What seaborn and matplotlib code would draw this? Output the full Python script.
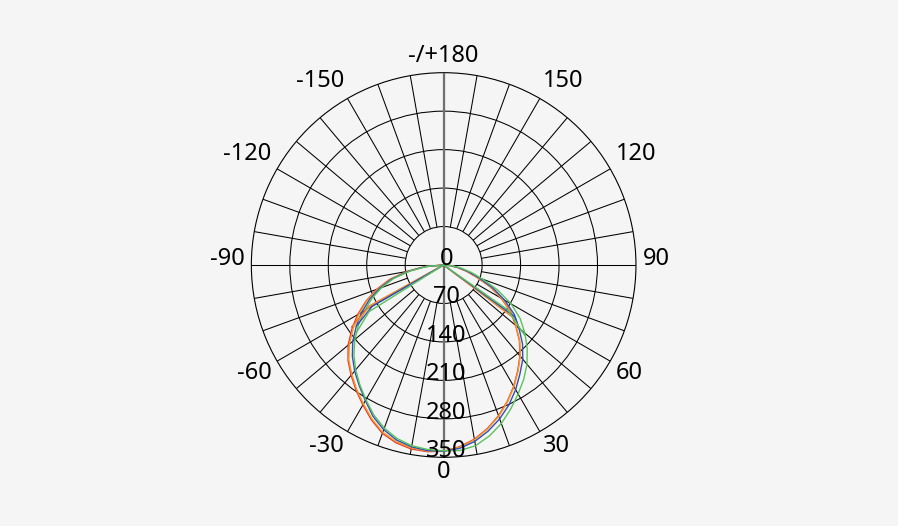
import numpy as np
import pandas as pd
import matplotlib
matplotlib.use('Agg')
import matplotlib.pyplot as plt
from matplotlib.transforms import offset_copy
import seaborn as sns

# gamma angles (deg), 0 = straight down, positive = to the right
gamma = list(range(-90, 95, 5))

# luminous intensity per C-plane
red = [0, 35, 68, 102, 130, 156, 181, 204, 227, 246, 262, 278, 294, 311, 326, 335, 340, 341, 339,
       332, 322, 308, 292, 274, 255, 235, 216, 195, 171, 149, 121, 93, 63, 42, 25, 12, 0]
orange = [0, 34, 66, 100, 128, 154, 178, 201, 224, 244, 260, 276, 292, 309, 324, 333, 338, 340, 339,
          333, 323, 309, 293, 275, 256, 236, 217, 196, 172, 150, 122, 94, 64, 43, 26, 12, 0]
blue = [0, 33, 64, 97, 124, 149, 172, 194, 216, 235, 252, 268, 285, 304, 319, 330, 336, 339, 339,
        335, 326, 313, 298, 281, 262, 242, 224, 203, 179, 157, 128, 99, 69, 46, 28, 13, 0]
green = [0, 31, 61, 94, 120, 144, 166, 189, 211, 231, 249, 266, 283, 301, 316, 327, 334, 337, 338,
         339, 334, 322, 307, 289, 271, 254, 236, 215, 193, 170, 142, 109, 76, 52, 32, 16, 0]

# inner shoulder branches (they run through the lamp centre)
red_inner_gamma = [-56, -61, 0, 53, 50]
red_inner = [202, 154, 0, 159, 171]
orange_inner_gamma = [-56, -61, 0, 53, 50]
orange_inner = [199, 152, 0, 160, 172]
blue_inner_gamma = [-55, -60, 0, 54, 50]
blue_inner = [194, 150, 0, 160, 179]
green_inner_gamma = [-52, -58, 0, 55, 49]
green_inner = [203, 160, 0, 142, 196]

planes = ['C0', 'C90', 'C180', 'C270']
colors = ['#e8352a', '#f59a23', '#2f4fbf', '#5bc25b']

rings = [70, 140, 210, 280, 350]
r_labels = [0, 70, 140, 210, 280, 350]
angle_ticks = [0, 30, 60, 90, 120, 150, 180, 210, 240, 270, 300, 330]
angle_labels = ['0', '30', '60', '90', '120', '150', '-/+180', '-150', '-120', '-90', '-60', '-30']

lobe = pd.DataFrame({
    'theta': np.deg2rad(gamma * 4),
    'cd': red + orange + blue + green,
    'plane': np.repeat(planes, len(gamma)),
})
inner = pd.DataFrame({
    'theta': np.deg2rad(red_inner_gamma + orange_inner_gamma + blue_inner_gamma + green_inner_gamma),
    'cd': red_inner + orange_inner + blue_inner + green_inner,
    'plane': np.repeat(planes, len(red_inner)),
})

sns.set_theme(style='white')
plt.rcParams['font.family'] = ['Noto Sans', 'DejaVu Sans']

fig = plt.figure(figsize=(8.98, 5.26), dpi=100, facecolor='#f5f5f5')
ax = fig.add_axes([0.2799, 0.1306, 0.4283, 0.7312], projection='polar')
ax.set_facecolor('none')
ax.set_theta_zero_location('S')
ax.set_theta_direction(1)
ax.set_ylim(0, 350)

# grid: rings + 10 degree spokes outside the first ring
ax.set_xticks([])
ax.set_yticks(rings[:-1])
ax.set_yticklabels([])
ax.xaxis.grid(False)
ax.yaxis.grid(True, color='black', linewidth=0.75)
ax.spines['polar'].set_color('black')
ax.spines['polar'].set_linewidth(0.8)
ax.vlines(np.deg2rad(np.arange(0, 360, 10)), rings[0], rings[-1], colors='black', linewidth=0.75)
ax.vlines(np.deg2rad([90, 270]), 0, rings[0], colors='black', linewidth=0.75)
ax.vlines(np.deg2rad([0, 180]), 0, rings[-1], colors='#707070', linewidth=1.6, zorder=3)

pal = dict(zip(planes, colors))
sns.lineplot(data=lobe, x='theta', y='cd', hue='plane', palette=pal, sort=False,
             estimator=None, legend=False, linewidth=1.0, ax=ax, zorder=4)
sns.lineplot(data=inner, x='theta', y='cd', hue='plane', palette=pal, sort=False,
             estimator=None, legend=False, linewidth=1.0, ax=ax, zorder=4)
ax.set_xlabel('')
ax.set_ylabel('')

# radial labels along the downward axis, baseline sitting on each ring
shifted = offset_copy(ax.transData, fig=fig, x=2.5, y=0, units='dots')
for v in r_labels:
    ax.text(0, v, str(v), ha='center', va='baseline', fontsize=17, color='black',
            transform=shifted, zorder=5)

# angle labels just outside the rim, aligned away from the circle
for t, lab in zip(angle_ticks, angle_labels):
    if t in (0, 180):
        ha = 'center'
    elif t < 180:
        ha = 'left'
    else:
        ha = 'right'
    dy = 0
    if t in (90, 270):
        va = 'baseline'
    elif t < 90 or t > 270:
        va = 'top'
        dy = 3.5
    else:
        va = 'bottom'
        dy = -2 if t == 180 else 0
    tr = offset_copy(ax.transData, fig=fig, x=0, y=dy, units='dots')
    ax.text(np.deg2rad(t), 362, lab, ha=ha, va=va, fontsize=17, color='black',
            transform=tr, clip_on=False)

fig.savefig('out.png', dpi=100, facecolor=fig.get_facecolor())
